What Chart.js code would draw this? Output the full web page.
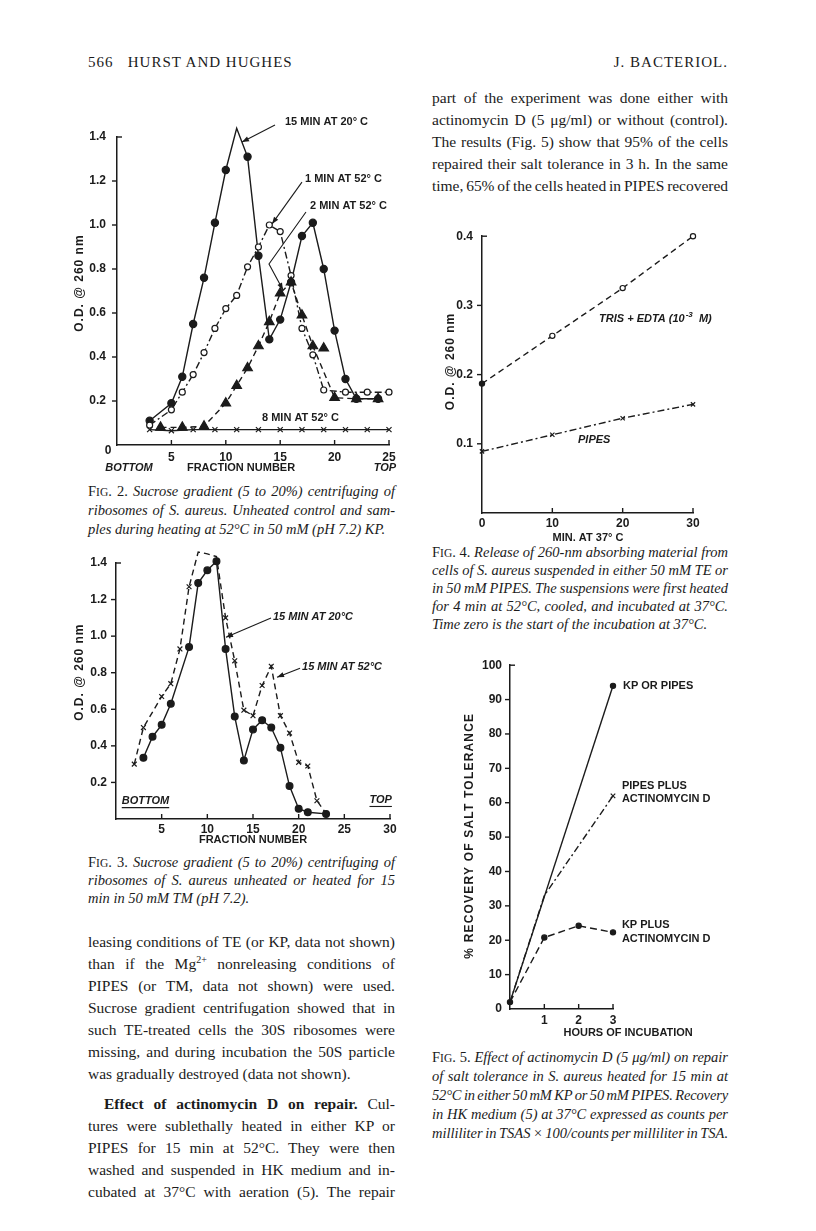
<!DOCTYPE html>
<html>
<head>
<meta charset="utf-8">
<script src="https://cdn.jsdelivr.net/npm/chart.js@4.4.0/dist/chart.umd.min.js"></script>
<style>
html, body { margin: 0; padding: 0; background: #fff; }
#page { position: relative; width: 816px; height: 1231px; overflow: hidden; color: #1b1b1b;
        font-family: "Liberation Serif", "DejaVu Serif", serif; }
.t { position: absolute; height: 20px; line-height: 20px; white-space: nowrap; font-size: 15.5px; }
.c { font-size: 14.5px; }
.sc { font-size: 11.5px; }
.fig { position: absolute; }
.hd { letter-spacing: 1px; font-size: 15px; }
</style>
</head>
<body>
<div id="page">
  <div class="t hd" style="left:88px;top:52px;">566&nbsp;&nbsp;&nbsp;HURST AND HUGHES</div>
  <div class="t hd" style="right:88px;top:52px;text-align:right;">J. BACTERIOL.</div>

  <div class="t j" data-w="296" style="left:432px;top:88px;">part of the experiment was done either with</div>
  <div class="t j" data-w="296" style="left:432px;top:110px;">actinomycin D (5 μg/ml) or without (control).</div>
  <div class="t j" data-w="296" style="left:432px;top:132px;">The results (Fig. 5) show that 95% of the cells</div>
  <div class="t j" data-w="296" style="left:432px;top:154px;">repaired their salt tolerance in 3 h. In the same</div>
  <div class="t j" data-w="296" style="left:432px;top:176px;">time, 65% of the cells heated in PIPES recovered</div>

  <div class="t c j" data-w="307" style="left:88px;top:481px;">F<span class="sc">IG</span>. 2. <i>Sucrose gradient (5 to 20%) centrifuging of</i></div>
  <div class="t c j" data-w="307" style="left:88px;top:500px;"><i>ribosomes of S. aureus. Unheated control and sam-</i></div>
  <div class="t c" style="left:88px;top:519px;"><i>ples during heating at 52°C in 50 mM (pH 7.2) KP.</i></div>

  <div class="t c j" data-w="307" style="left:88px;top:852px;">F<span class="sc">IG</span>. 3. <i>Sucrose gradient (5 to 20%) centrifuging of</i></div>
  <div class="t c j" data-w="307" style="left:88px;top:870px;"><i>ribosomes of S. aureus unheated or heated for 15</i></div>
  <div class="t c" style="left:88px;top:888px;"><i>min in 50 mM TM (pH 7.2).</i></div>

  <div class="t j" data-w="307" style="left:88px;top:932px;">leasing conditions of TE (or KP, data not shown)</div>
  <div class="t j" data-w="307" style="left:88px;top:954px;">than if the Mg<sup style="font-size:10px;line-height:0">2+</sup> nonreleasing conditions of</div>
  <div class="t j" data-w="307" style="left:88px;top:976px;">PIPES (or TM, data not shown) were used.</div>
  <div class="t j" data-w="307" style="left:88px;top:998px;">Sucrose gradient centrifugation showed that in</div>
  <div class="t j" data-w="307" style="left:88px;top:1020px;">such TE-treated cells the 30S ribosomes were</div>
  <div class="t j" data-w="307" style="left:88px;top:1042px;">missing, and during incubation the 50S particle</div>
  <div class="t" style="left:88px;top:1064px;">was gradually destroyed (data not shown).</div>
  <div class="t j" data-w="291" style="left:104px;top:1094px;"><b>Effect of actinomycin D on repair.</b> Cul-</div>
  <div class="t j" data-w="307" style="left:88px;top:1116px;">tures were sublethally heated in either KP or</div>
  <div class="t j" data-w="307" style="left:88px;top:1138px;">PIPES for 15 min at 52°C. They were then</div>
  <div class="t j" data-w="307" style="left:88px;top:1160px;">washed and suspended in HK medium and in-</div>
  <div class="t j" data-w="307" style="left:88px;top:1182px;">cubated at 37°C with aeration (5). The repair</div>

  <div class="t c j" data-w="296" style="left:432px;top:542px;">F<span class="sc">IG</span>. 4. <i>Release of 260-nm absorbing material from</i></div>
  <div class="t c j" data-w="296" style="left:432px;top:560px;"><i>cells of S. aureus suspended in either 50 mM TE or</i></div>
  <div class="t c j" data-w="296" style="left:432px;top:578px;"><i>in 50 mM PIPES. The suspensions were first heated</i></div>
  <div class="t c j" data-w="296" style="left:432px;top:596px;"><i>for 4 min at 52°C, cooled, and incubated at 37°C.</i></div>
  <div class="t c" style="left:432px;top:614px;"><i>Time zero is the start of the incubation at 37°C.</i></div>

  <div class="t c j" data-w="296" style="left:432px;top:1047px;">F<span class="sc">IG</span>. 5. <i>Effect of actinomycin D (5 μg/ml) on repair</i></div>
  <div class="t c j" data-w="296" style="left:432px;top:1066px;"><i>of salt tolerance in S. aureus heated for 15 min at</i></div>
  <div class="t c j" data-w="296" style="left:432px;top:1085px;"><i>52°C in either 50 mM KP or 50 mM PIPES. Recovery</i></div>
  <div class="t c j" data-w="296" style="left:432px;top:1104px;"><i>in HK medium (5) at 37°C expressed as counts per</i></div>
  <div class="t c j" data-w="296" style="left:432px;top:1123px;"><i>milliliter in TSAS × 100/counts per milliliter in TSA.</i></div>

  <div class="fig" style="left:60px;top:105px;"><canvas id="fig2" width="345" height="375"></canvas></div>
  <div class="fig" style="left:60px;top:545px;"><canvas id="fig3" width="345" height="305"></canvas></div>
  <div class="fig" style="left:430px;top:220px;"><canvas id="fig4" width="310" height="330"></canvas></div>
  <div class="fig" style="left:440px;top:650px;"><canvas id="fig5" width="300" height="395"></canvas></div>
</div>

<script>
// ---- Fig. 2: O.D. at 260 nm per fraction ----
var fig2Frac20 = [3, 5, 6, 7, 8, 9, 10, 11, 12, 13, 14, 15, 16, 17, 18, 19, 20, 21, 22, 24];
var fig2Od20   = [0.11, 0.19, 0.31, 0.55, 0.76, 1.01, 1.25, 1.44, 1.31, 0.86, 0.48, 0.57, 0.74, 0.95, 1.01, 0.80, 0.52, 0.30, 0.21, 0.21];
var fig2Frac1  = [3, 5, 6, 7, 8, 9, 10, 11, 12, 13, 14, 15, 16, 17, 18, 19, 21, 23, 25];
var fig2Od1    = [0.09, 0.16, 0.24, 0.32, 0.42, 0.53, 0.62, 0.68, 0.81, 0.90, 1.00, 0.97, 0.77, 0.53, 0.41, 0.25, 0.24, 0.24, 0.24];
var fig2Frac2  = [4, 6, 8, 10, 11, 12, 13, 14, 15, 16, 17, 18, 20, 22, 24];
var fig2Od2    = [0.08, 0.08, 0.085, 0.19, 0.27, 0.35, 0.45, 0.56, 0.69, 0.74, 0.59, 0.45, 0.215, 0.21, 0.21];
var fig2FracStray = [19];
var fig2OdStray   = [0.44];
var fig2Frac8  = [3, 5, 7, 9, 11, 13, 15, 17, 19, 21, 23, 25];
var fig2Od8    = [0.07, 0.065, 0.07, 0.07, 0.07, 0.07, 0.07, 0.07, 0.07, 0.07, 0.07, 0.07];

// ---- Fig. 3 ----
var fig3Frac20 = [3, 4, 5, 6, 8, 9, 10, 11, 12, 13, 14, 15, 16, 17, 18, 19, 20, 21, 23];
var fig3Od20   = [0.335, 0.45, 0.515, 0.63, 0.94, 1.29, 1.36, 1.41, 0.93, 0.56, 0.32, 0.49, 0.54, 0.50, 0.39, 0.18, 0.056, 0.037, 0.028];
var fig3Frac52 = [2, 3, 5, 6, 7, 8, 9, 10, 11, 12, 13, 14, 15, 16, 17, 18, 19, 20, 21, 22, 23];
var fig3Od52   = [0.30, 0.50, 0.67, 0.74, 0.93, 1.27, 1.46, 1.45, 1.435, 1.10, 0.865, 0.595, 0.565, 0.73, 0.835, 0.565, 0.47, 0.31, 0.29, 0.10, 0.03];

// ---- Fig. 4 ----
var fig4Min   = [0, 10, 20, 30];
var fig4Tris  = [0.187, 0.256, 0.325, 0.40];
var fig4Pipes = [0.089, 0.113, 0.137, 0.157];

// ---- Fig. 5 ----
var fig5HoursKpPipes = [0, 3];
var fig5KpPipes      = [2, 94];
var fig5HoursPipesAct = [0, 1, 3];
var fig5PipesAct      = [2, 33, 62];
var fig5HoursKpAct   = [0, 1, 2, 3];
var fig5KpAct        = [2, 20.8, 24.2, 22.3];

var INK = '#1b1b1b';
var SANS = '"Liberation Sans", Arial, sans-serif';
var LETTER = 'bold 11px ' + SANS;
var LETTER_IT = 'italic bold 11px ' + SANS;

function pts(xs, ys) {
    return xs.map(function (x, i) { return {x: x, y: ys[i]}; });
}

// draws tick marks, leader lines and lettering through the chart scales
var Paper = {
    id: 'paper',
    afterDraw: function (chart, args, o) {
        var ctx = chart.ctx, sx = chart.scales.x, sy = chart.scales.y;
        var px = function (v) { return sx.getPixelForValue(v); };
        var py = function (v) { return sy.getPixelForValue(v); };
        var near = function (a, b) { return Math.abs(a - b) < 1e-9; };
        ctx.save();
        ctx.strokeStyle = INK;
        ctx.fillStyle = INK;
        ctx.lineWidth = 1.4;

        sx.ticks.forEach(function (t) {
            if (near(t.value, sx.min)) return;
            ctx.beginPath();
            ctx.moveTo(px(t.value), sy.bottom);
            ctx.lineTo(px(t.value), sy.bottom - o.tick);
            ctx.stroke();
        });
        sy.ticks.forEach(function (t) {
            if (near(t.value, sy.min)) return;
            var dir = near(t.value, sy.max) ? 1 : -1;
            ctx.beginPath();
            ctx.moveTo(sx.left, py(t.value));
            ctx.lineTo(sx.left + dir * o.tick, py(t.value));
            ctx.stroke();
        });

        ctx.lineWidth = 1.1;
        (o.leaders || []).forEach(function (l) {
            ctx.beginPath();
            l.forEach(function (p, i) {
                if (i === 0) ctx.moveTo(px(p[0]), py(p[1]));
                else ctx.lineTo(px(p[0]), py(p[1]));
            });
            ctx.stroke();
            var a = l[l.length - 2], b = l[l.length - 1];
            var ang = Math.atan2(py(b[1]) - py(a[1]), px(b[0]) - px(a[0]));
            ctx.save();
            ctx.translate(px(b[0]), py(b[1]));
            ctx.rotate(ang);
            ctx.beginPath();
            ctx.moveTo(0, 0);
            ctx.lineTo(-7, -2.6);
            ctx.lineTo(-7, 2.6);
            ctx.closePath();
            ctx.fill();
            ctx.restore();
        });

        ctx.textBaseline = 'middle';
        (o.texts || []).forEach(function (t) {
            ctx.font = t.font || LETTER;
            ctx.textAlign = t.align || 'left';
            var x = px(t.x), y = py(t.y);
            ctx.fillText(t.t, x, y);
            var w = ctx.measureText(t.t).width;
            if (t.sup) {
                var x2 = x + w;
                ctx.font = (t.supFont || 'italic bold 8px ' + SANS);
                ctx.fillText(t.sup, x2 + 1, y - 4);
                x2 += ctx.measureText(t.sup).width + 1;
                ctx.font = t.font || LETTER;
                ctx.fillText(t.after, x2, y);
            }
            if (t.underline) {
                var x0 = t.align === 'center' ? x - w / 2 : x;
                ctx.beginPath();
                ctx.moveTo(x0, y + 6.5);
                ctx.lineTo(x0 + w, y + 6.5);
                ctx.stroke();
            }
        });

        if (o.yTitle) {
            ctx.translate(px(o.yTitle.x), py(o.yTitle.y));
            ctx.rotate(-Math.PI / 2);
            ctx.font = o.yTitle.font || ('bold 12px ' + SANS);
            ctx.letterSpacing = (o.yTitle.spacing || 0) + 'px';
            ctx.textAlign = 'center';
            ctx.fillText(o.yTitle.t, 0, 0);
        }
        ctx.restore();
    }
};

var Figures = {
    charts: {},

    axis: function (min, max, step, pad, size, labelFn) {
        return {
            type: 'linear', min: min, max: max,
            grid: {display: false, drawTicks: false},
            border: {display: true, color: INK, width: 1.5},
            ticks: {
                stepSize: step, padding: pad, color: INK, autoSkip: false, maxRotation: 0,
                font: {family: SANS, size: 12, weight: 'bold'},
                callback: labelFn
            },
            afterFit: function (s) {
                if (s.isHorizontal()) s.height = size; else s.width = size;
            }
        };
    },

    line: function (xs, ys, opts) {
        var d = {
            data: pts(xs, ys), showLine: true, clip: false,
            borderColor: INK, borderWidth: 1.4,
            pointBackgroundColor: INK, pointBorderColor: INK, pointBorderWidth: 1.2,
            pointRadius: 3.4
        };
        for (var k in opts) d[k] = opts[k];
        return d;
    },

    make: function (id, pad, xAxis, yAxis, datasets, paper) {
        Figures.charts[id] = new Chart(document.getElementById(id), {
            type: 'scatter',
            data: {datasets: datasets},
            options: {
                responsive: false, animation: false, events: [],
                layout: {padding: {left: 0, bottom: 0, top: pad.top, right: pad.right}},
                plugins: {legend: {display: false}, tooltip: {enabled: false}, paper: paper},
                scales: {x: xAxis, y: yAxis}
            },
            plugins: [Paper]
        });
    },

    init: function () {
        var noZero = function (v) { return v === 0 ? '' : v; };
        var oneDec = function (v) { return v < 1e-9 ? '' : v.toFixed(1); };
        var dashDot = [7, 3, 2, 3];

        Figures.make('fig2', {top: 32, right: 16},
            Figures.axis(0, 25, 5, 5, 35, noZero),
            Figures.axis(0, 1.4, 0.2, 11, 57, oneDec),
            [
                Figures.line(fig2Frac8, fig2Od8, {pointStyle: 'crossRot', pointRadius: 3.6}),
                Figures.line(fig2Frac2, fig2Od2, {pointStyle: 'triangle', pointRadius: 5.5, borderDash: [6, 4]}),
                Figures.line(fig2FracStray, fig2OdStray, {pointStyle: 'triangle', pointRadius: 5.5, showLine: false}),
                Figures.line(fig2Frac1, fig2Od1, {pointBackgroundColor: '#fff', pointRadius: 3, borderDash: dashDot}),
                Figures.line(fig2Frac20, fig2Od20, {pointRadius: 3.6})
            ],
            {
                tick: 5,
                texts: [
                    {t: '15 MIN AT 20° C', x: 15.44, y: 1.468},
                    {t: '1 MIN AT 52° C', x: 17.28, y: 1.209},
                    {t: '2 MIN AT 52° C', x: 17.74, y: 1.086},
                    {t: '8 MIN AT 52° C', x: 13.33, y: 0.123},
                    {t: '0', x: -0.83, y: -0.027, align: 'center', font: 'bold 12px ' + SANS},
                    {t: 'BOTTOM', x: 1.10, y: -0.105, align: 'center', font: LETTER_IT},
                    {t: 'FRACTION NUMBER', x: 11.4, y: -0.105, align: 'center'},
                    {t: 'TOP', x: 24.63, y: -0.105, align: 'center', font: LETTER_IT}
                ],
                leaders: [
                    [[14.52, 1.455], [11.49, 1.377]],
                    [[17.0, 1.195], [14.25, 1.005]],
                    [[17.37, 1.059], [13.97, 0.823], [15.26, 0.705]]
                ],
                yTitle: {t: 'O.D. @ 260 nm', x: -3.4, y: 0.736, spacing: 1}
            });

        Figures.make('fig3', {top: 18, right: 15},
            Figures.axis(0, 30, 5, 3, 31, noZero),
            Figures.axis(0, 1.4, 0.2, 9, 56, oneDec),
            [
                Figures.line(fig3Frac52, fig3Od52, {pointStyle: 'crossRot', pointRadius: 3.4, borderDash: [6, 4]}),
                Figures.line(fig3Frac20, fig3Od20, {pointRadius: 3.4})
            ],
            {
                tick: 5,
                texts: [
                    {t: '15 MIN AT 20°C', x: 17.19, y: 1.104, font: LETTER_IT},
                    {t: '15 MIN AT 52°C', x: 20.37, y: 0.830, font: LETTER_IT},
                    {t: 'BOTTOM', x: 3.23, y: 0.098, align: 'center', font: LETTER_IT, underline: true},
                    {t: 'TOP', x: 28.98, y: 0.104, align: 'center', font: LETTER_IT, underline: true},
                    {t: 'FRACTION NUMBER', x: 15.0, y: -0.112, align: 'center'}
                ],
                leaders: [
                    [[16.97, 1.099], [12.04, 0.994]],
                    [[20.15, 0.825], [17.63, 0.775]]
                ],
                yTitle: {t: 'O.D. @ 260 nm', x: -3.94, y: 0.803, spacing: 1}
            });

        Figures.make('fig4', {top: 13, right: 47},
            Figures.axis(0, 30, 10, 3, 37, function (v) { return v; }),
            Figures.axis(0, 0.4, 0.1, 9, 52, oneDec),
            [
                Figures.line(fig4Min, fig4Tris, {
                    borderDash: [6, 4], pointRadius: 2.6,
                    pointBackgroundColor: [INK, '#fff', '#fff', '#fff']
                }),
                Figures.line(fig4Min, fig4Pipes, {pointStyle: 'crossRot', pointRadius: 3, borderDash: dashDot})
            ],
            {
                tick: 5,
                texts: [
                    {t: 'TRIS + EDTA (10', x: 16.64, y: 0.28, font: LETTER_IT, sup: '-3', after: '  M)'},
                    {t: 'PIPES', x: 13.65, y: 0.106, font: LETTER_IT},
                    {t: 'MIN. AT 37° C', x: 15.07, y: -0.036, align: 'center'}
                ],
                yTitle: {t: 'O.D. @ 260 nm', x: -4.41, y: 0.219, spacing: 1}
            });

        Figures.make('fig5', {top: 12, right: 127},
            Figures.axis(0, 3, 1, 4, 36, noZero),
            Figures.axis(0, 100, 10, 8, 70, function (v) { return v; }),
            [
                Figures.line(fig5HoursKpPipes, fig5KpPipes, {pointRadius: [0, 2.6]}),
                Figures.line(fig5HoursPipesAct, fig5PipesAct, {pointStyle: 'crossRot', pointRadius: [0, 0, 3.2], borderDash: dashDot}),
                Figures.line(fig5HoursKpAct, fig5KpAct, {pointRadius: 2.6, borderDash: [7, 4]})
            ],
            {
                tick: 5,
                texts: [
                    {t: 'KP OR PIPES', x: 3.29, y: 93.9},
                    {t: 'PIPES PLUS', x: 3.26, y: 64.8},
                    {t: 'ACTINOMYCIN D', x: 3.26, y: 61.1},
                    {t: 'KP PLUS', x: 3.26, y: 24.5},
                    {t: 'ACTINOMYCIN D', x: 3.26, y: 20.5},
                    {t: 'HOURS OF INCUBATION', x: 3.44, y: -6.9, align: 'center'}
                ],
                yTitle: {t: '% RECOVERY OF SALT TOLERANCE', x: -1.165, y: 50.4, spacing: 1.2}
            });
    },

    // stretch (or squeeze) each typeset line to its column width
    justify: function () {
        var lines = document.querySelectorAll('.j');
        for (var i = 0; i < lines.length; i++) {
            var el = lines[i];
            var target = parseFloat(el.getAttribute('data-w'));
            el.style.wordSpacing = '0px';
            el.style.letterSpacing = '0px';
            var natural = el.getBoundingClientRect().width;
            var gaps = (el.textContent.match(/ /g) || []).length;
            if (!gaps) continue;
            var ws = (target - natural) / gaps;
            if (ws < -1) {
                // too long: tighten letters a little, then fit the rest with the spaces
                var chars = el.textContent.length;
                var ls = Math.max(-0.4, (target - natural + gaps) / chars);
                el.style.letterSpacing = ls + 'px';
                natural = el.getBoundingClientRect().width;
                ws = (target - natural) / gaps;
            }
            el.style.wordSpacing = ws + 'px';
        }
    }
};

Figures.justify();
Figures.init();
</script>
</body>
</html>
